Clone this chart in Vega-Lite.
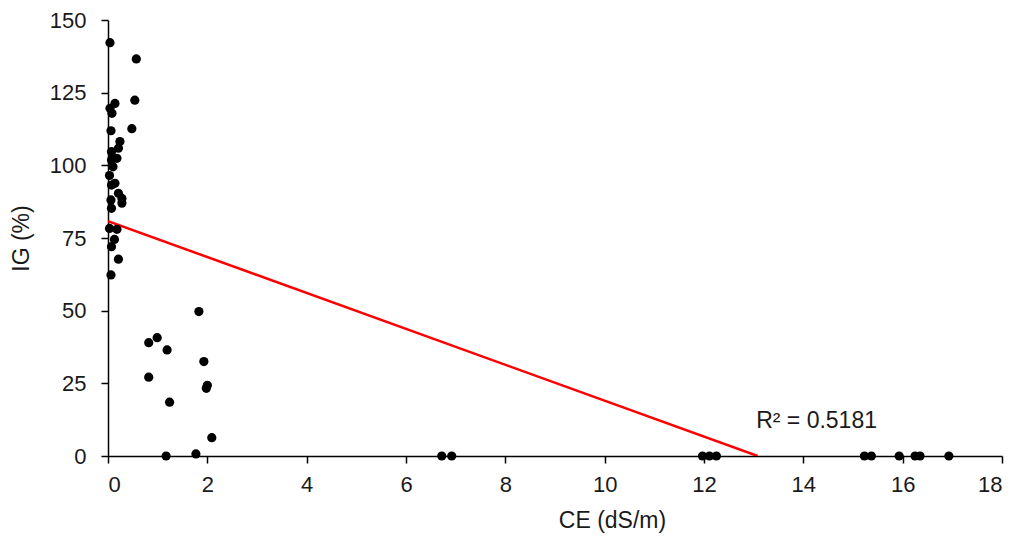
{
  "$schema": "https://vega.github.io/schema/vega-lite/v6.json",
  "width": 894,
  "height": 436,
  "autosize": {"type": "none"},
  "padding": {"left": 108, "top": 20, "right": 20, "bottom": 89},
  "background": "white",
  "config": {
    "view": {"stroke": null},
    "font": "Liberation Sans",
    "axis": {"grid": false, "domainColor": "black", "domainWidth": 1.5, "tickColor": "black", "tickWidth": 1.5, "tickSize": 7, "labelColor": "#1a1a1a", "titleColor": "#1a1a1a", "labelFont": "Liberation Sans", "titleFont": "Liberation Sans", "labelFontSize": 22, "titleFontSize": 23, "titleFontWeight": "normal"}
  },
  "datasets": {
    "pts": [
      {"CE": 0.04, "IG": 142.2}, {"CE": 0.57, "IG": 136.6}, {"CE": 0.54, "IG": 122.4}, {"CE": 0.14, "IG": 121.3},
      {"CE": 0.04, "IG": 119.6}, {"CE": 0.08, "IG": 117.9}, {"CE": 0.48, "IG": 112.6}, {"CE": 0.06, "IG": 111.9},
      {"CE": 0.24, "IG": 108.2}, {"CE": 0.21, "IG": 105.9}, {"CE": 0.07, "IG": 104.7}, {"CE": 0.18, "IG": 102.4},
      {"CE": 0.07, "IG": 101.8}, {"CE": 0.10, "IG": 99.5}, {"CE": 0.03, "IG": 96.5}, {"CE": 0.14, "IG": 93.8},
      {"CE": 0.07, "IG": 93.2}, {"CE": 0.21, "IG": 90.4}, {"CE": 0.28, "IG": 88.6}, {"CE": 0.28, "IG": 87.0},
      {"CE": 0.06, "IG": 88.1}, {"CE": 0.07, "IG": 85.2}, {"CE": 0.03, "IG": 78.3}, {"CE": 0.18, "IG": 78.0},
      {"CE": 0.13, "IG": 74.5}, {"CE": 0.07, "IG": 72.0}, {"CE": 0.21, "IG": 67.7}, {"CE": 0.06, "IG": 62.3},
      {"CE": 1.83, "IG": 49.7}, {"CE": 0.99, "IG": 40.7}, {"CE": 0.82, "IG": 39.0}, {"CE": 1.19, "IG": 36.5},
      {"CE": 1.93, "IG": 32.5}, {"CE": 0.82, "IG": 27.1}, {"CE": 2.0, "IG": 24.3}, {"CE": 1.98, "IG": 23.3},
      {"CE": 1.24, "IG": 18.5}, {"CE": 2.09, "IG": 6.3}, {"CE": 1.17, "IG": 0.0}, {"CE": 1.77, "IG": 0.7},
      {"CE": 6.72, "IG": 0}, {"CE": 6.92, "IG": 0}, {"CE": 11.97, "IG": 0}, {"CE": 12.11, "IG": 0},
      {"CE": 12.25, "IG": 0}, {"CE": 15.23, "IG": 0}, {"CE": 15.37, "IG": 0}, {"CE": 15.93, "IG": 0},
      {"CE": 16.25, "IG": 0}, {"CE": 16.35, "IG": 0}, {"CE": 16.93, "IG": 0}
    ],
    "trend": [{"CE": 0, "IG": 80.8}, {"CE": 13.08, "IG": 0}],
    "label": [{"CE": 13.05, "IG": 11.9, "t": "R² = 0.5181"}]
  },
  "layer": [
    {
      "data": {"name": "trend"},
      "mark": {"type": "line", "color": "#ff0000", "strokeWidth": 2.5, "clip": true},
      "encoding": {
        "x": {"field": "CE", "type": "quantitative", "scale": {"domain": [0, 18], "nice": false, "zero": false},
              "axis": {"values": [0, 2, 4, 6, 8, 10, 12, 14, 16, 18], "title": "CE (dS/m)", "labelPadding": 11, "titlePadding": 14, "titleX": 504}},
        "y": {"field": "IG", "type": "quantitative", "scale": {"domain": [0, 150], "nice": false},
              "axis": {"values": [0, 25, 50, 75, 100, 125, 150], "title": "IG (%)", "labelPadding": 15, "titlePadding": 16}}
      }
    },
    {
      "data": {"name": "pts"},
      "mark": {"type": "point", "filled": true, "color": "black", "opacity": 1, "size": 85, "clip": false},
      "encoding": {
        "x": {"field": "CE", "type": "quantitative"},
        "y": {"field": "IG", "type": "quantitative"}
      }
    },
    {
      "data": {"name": "label"},
      "mark": {"type": "text", "align": "left", "baseline": "middle", "fontSize": 23, "color": "#1a1a1a", "font": "Liberation Sans"},
      "encoding": {
        "x": {"field": "CE", "type": "quantitative"},
        "y": {"field": "IG", "type": "quantitative"},
        "text": {"field": "t"}
      }
    }
  ]
}
